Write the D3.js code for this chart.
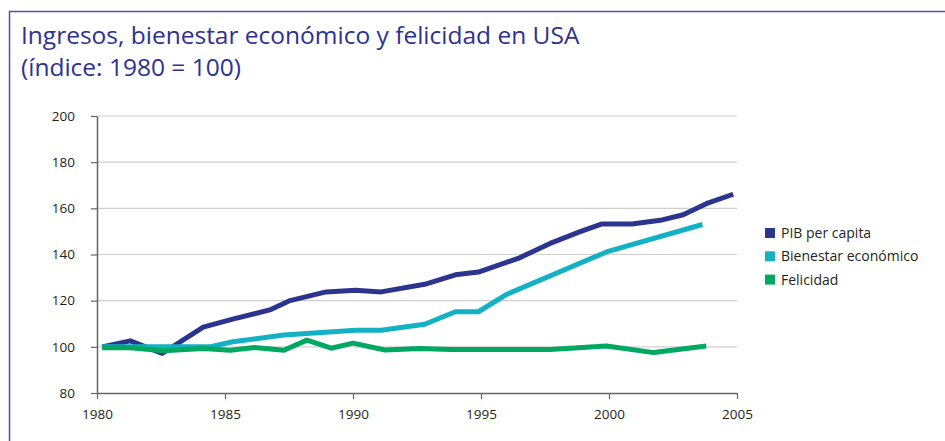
<!DOCTYPE html>
<html>
<head>
<meta charset="utf-8">
<script src="https://cdn.jsdelivr.net/npm/d3@7"></script>
<style>
  body { margin: 0; background: #fff; }
  svg { display: block; font-family: "Open Sans", "Noto Sans", sans-serif; }
</style>
</head>
<body>
<div id="chart"></div>
<script>
// Data (index 1980 = 100)
const yTicks = [80, 100, 120, 140, 160, 180, 200];
const xTicks = [1980, 1985, 1990, 1995, 2000, 2005];
const seriesNames = ["PIB per capita", "Bienestar económico", "Felicidad"];
const seriesColors = ["#2b3590", "#12b1c3", "#00a862"];

const pibYears = [1980.2, 1981.3, 1982.55, 1984.15, 1985.3, 1986.75, 1987.5, 1988.95, 1990.1, 1991.1, 1992.8, 1994.0, 1994.9, 1996.45, 1997.7, 1998.85, 1999.7, 2000.9, 2002.0, 2002.9, 2003.8, 2004.85];
const pibValues = [100, 102.6, 97.2, 108.5, 112, 116, 119.9, 123.8, 124.5, 123.8, 127.1, 131.2, 132.4, 138.3, 144.8, 149.8, 153.2, 153.2, 154.8, 157.2, 162, 166.1];

const bienYears = [1980.2, 1984.4, 1985.3, 1987.3, 1990.1, 1991.1, 1992.8, 1994.0, 1994.9, 1996.0, 1999.9, 2003.65];
const bienValues = [100, 100, 102.2, 105.1, 107.2, 107.2, 109.8, 115.2, 115.2, 122.7, 141.1, 153];

const felYears = [1980.2, 1981.3, 1982.6, 1984.15, 1985.2, 1986.15, 1987.3, 1988.2, 1989.15, 1990.0, 1991.25, 1992.6, 1993.8, 1997.7, 1999.9, 2001.75, 2003.8];
const felValues = [99.6, 99.6, 98.3, 99.3, 98.5, 99.7, 98.5, 102.9, 99.4, 101.6, 98.6, 99.3, 98.8, 98.8, 100.4, 97.5, 100.4];

const width = 945, height = 441;
const margin = { top: 116, right: 208, bottom: 48, left: 97 };

const svg = d3.select("#chart")
    .append("svg")
    .attr("width", width)
    .attr("height", height);

// frame
svg.append("path")
    .attr("d", `M9.5,${height} V11.5 H${width}`)
    .attr("fill", "none")
    .attr("stroke", "#4e53a8")
    .attr("stroke-width", 1.5);

// title
const title = svg.append("text")
    .attr("x", 22)
    .attr("fill", "#2e3192")
    .attr("font-size", "24.5px");
title.append("tspan").attr("x", 21).attr("y", 44).text("Ingresos, bienestar económico y felicidad en USA");
title.append("tspan").attr("x", 21).attr("y", 76).text("(índice: 1980 = 100)");

const xScale = d3.scaleLinear()
    .domain([1980, 2005])
    .range([margin.left, width - margin.right]);
const yScale = d3.scaleLinear()
    .domain([80, 200])
    .range([height - margin.bottom, margin.top]);

// grid
svg.append("g")
    .selectAll("line")
    .data(yTicks.slice(1))
    .join("line")
    .attr("x1", xScale(1980))
    .attr("x2", xScale(2005))
    .attr("y1", d => yScale(d))
    .attr("y2", d => yScale(d))
    .attr("stroke", "#cfcfcf")
    .attr("stroke-width", 1.2);

// y axis
svg.append("g")
    .attr("transform", `translate(${margin.left},0)`)
    .call(d3.axisLeft(yScale).tickValues(yTicks).tickSize(6).tickPadding(16).tickSizeOuter(0))
    .call(g => g.select(".domain").attr("stroke", "#666").attr("stroke-width", 1.5))
    .call(g => g.selectAll(".tick line").attr("stroke", "#666").attr("stroke-width", 1.2))
    .call(g => g.selectAll("text").attr("fill", "#231f20").attr("font-size", "13.5px").attr("font-family", "Open Sans"));

// x axis
svg.append("g")
    .attr("transform", `translate(0,${height - margin.bottom})`)
    .call(d3.axisBottom(xScale).tickValues(xTicks).tickFormat(d3.format("d")).tickSize(6).tickPadding(10).tickSizeOuter(0))
    .call(g => g.select(".domain").attr("stroke", "#666").attr("stroke-width", 1.5))
    .call(g => g.selectAll(".tick line").attr("stroke", "#666").attr("stroke-width", 1.2))
    .call(g => g.selectAll("text").attr("fill", "#231f20").attr("font-size", "13.5px").attr("font-family", "Open Sans"));

// lines
const line = d3.line()
    .x(d => xScale(d[0]))
    .y(d => yScale(d[1]));

const series = [
    d3.zip(pibYears, pibValues),
    d3.zip(bienYears, bienValues),
    d3.zip(felYears, felValues)
];

svg.append("g")
    .selectAll("path")
    .data(series)
    .join("path")
    .attr("d", line)
    .attr("fill", "none")
    .attr("stroke", (d, i) => seriesColors[i])
    .attr("stroke-width", 5)
    .attr("stroke-linejoin", "round");

// legend
const legend = svg.append("g")
    .attr("transform", "translate(765,233)");
const item = legend.selectAll("g")
    .data(seriesNames)
    .join("g")
    .attr("transform", (d, i) => `translate(0,${i * 23.3})`);
item.append("rect")
    .attr("x", 0)
    .attr("y", -5)
    .attr("width", 10)
    .attr("height", 10)
    .attr("fill", (d, i) => seriesColors[i]);
item.append("text")
    .attr("x", 16)
    .attr("y", 5)
    .attr("fill", "#231f20")
    .attr("font-size", "14px")
    .text(d => d);
</script>
</body>
</html>
